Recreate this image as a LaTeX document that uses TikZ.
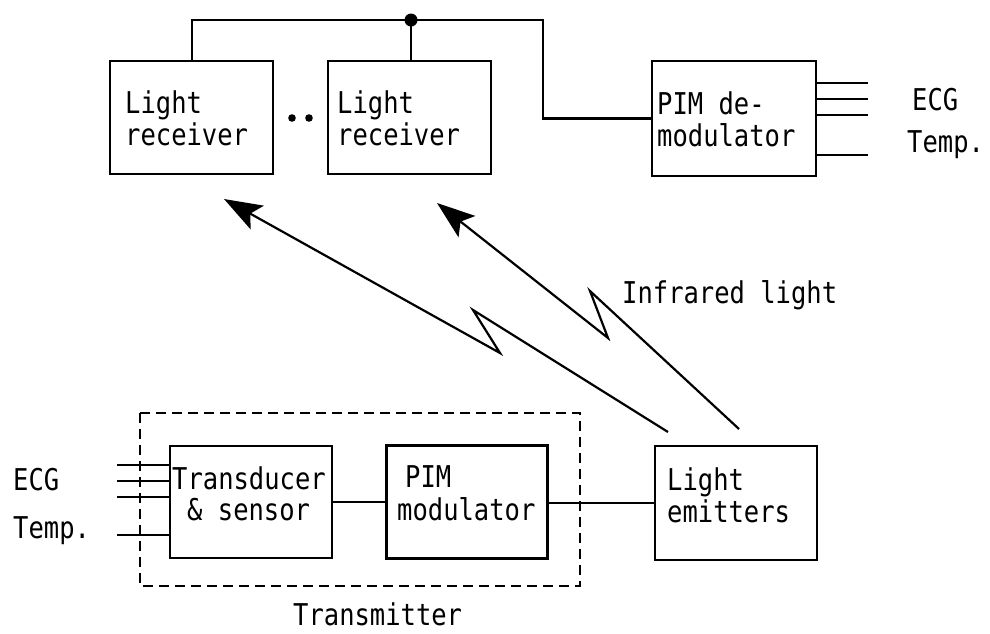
\documentclass[tikz,border=0pt]{standalone}
\usepackage{fontspec}
\usetikzlibrary{arrows.meta}
\newfontfamily\monofont[FakeStretch=0.85]{DejaVu Sans Mono}
\begin{document}
\begin{tikzpicture}[x=1pt,y=-1pt,
  block/.style={draw,line width=2.4pt,minimum width=#1,inner sep=0pt},
  block/.default=162pt,
  lbl/.style={anchor=base west,inner sep=0pt,font=\monofont\fontsize{30}{32}\selectfont},
  wire/.style={line width=2.2pt},
  beam/.style={line width=2.2pt,line join=miter,
    -{Stealth[length=38pt,width=27pt,inset=8pt]}},
  frame/.style={line width=2.2pt,dash pattern=on 10pt off 6pt}]
\useasboundingbox (0,0) rectangle (990,633);

% receiving side
\node[block=163pt,minimum height=113pt] (rx1) at (191.5,117.5) {};
\node[block=163pt,minimum height=113pt] (rx2) at (409.5,117.5) {};
\node[block=164pt,minimum height=115pt] (demod) at (734,118.5) {};

% transmitting side
\node[block=162pt,minimum height=112pt] (trans) at (251,502) {};
\node[block=161pt,minimum height=113pt] (mod) at (467,502) {};
\node[block=162pt,minimum height=114pt] (emit) at (736,503) {};

% box texts
\node[lbl] (t1a) at (125,113) {Light};
\node[lbl] (t1b) at (125,145) {receiver};
\node[lbl] (t2a) at (337,113) {Light};
\node[lbl] (t2b) at (337,145) {receiver};
\node[lbl] (t3a) at (657,114) {PIM de-};
\node[lbl] (t3b) at (657,146) {modulator};
\node[lbl] (t4a) at (172,489) {Transducer};
\node[lbl] (t4b) at (187,520) {\& sensor};
\node[lbl] (t5a) at (405,487) {PIM};
\node[lbl] (t5b) at (397,520) {modulator};
\node[lbl] (t6a) at (667,490) {Light};
\node[lbl] (t6b) at (667,522) {emitters};

% free labels
\node[lbl] (ecgL) at (13,490) {ECG};
\node[lbl] (tmpL) at (13,538) {Temp.};
\node[lbl] (ecgR) at (912,110) {ECG};
\node[lbl] (tmpR) at (907,152) {Temp.};
\node[lbl] (ir) at (622,303) {Infrared light};
\node[lbl] (tx) at (293,625) {Transmitter};

% receiver bus
\coordinate (bj) at (411,20);
\coordinate (bl) at (192,20);
\coordinate (br) at (543,20);
\draw[wire] (rx1.north -| bl) -- (bl) -- (br) |- (demod.west);
\draw[wire] (bj) -- (bj |- rx2.north);
\fill (bj) circle (6.5pt);
\fill (292,118) circle (3.8pt) (309,118) circle (3.8pt);

% demodulator outputs
\foreach \yy in {83,99,115,155}
  \draw[wire] (demod.east |- 0,\yy) -- (868,\yy);

% transmitter inputs
\foreach \yy in {465,481,497,535}
  \draw[wire] (117,\yy) -- (trans.west |- 0,\yy);

% transmitter chain
\draw[wire] (trans.east) -- (mod.west);
\draw[wire] (mod.east |- emit.west) -- (emit.west);

% transmitter enclosure
\draw[frame] (140,413) rectangle (580,586);

% infrared beams
\coordinate (e1) at (668,432);
\coordinate (e2) at (739,429);
\coordinate (a1) at (224,199);
\coordinate (a2) at (437,203);
\draw[beam] (e1) -- (473,310) -- (500,353) -- (a1);
\draw[beam] (e2) -- (590,291) -- (608,338) -- (a2);
\end{tikzpicture}
\end{document}
